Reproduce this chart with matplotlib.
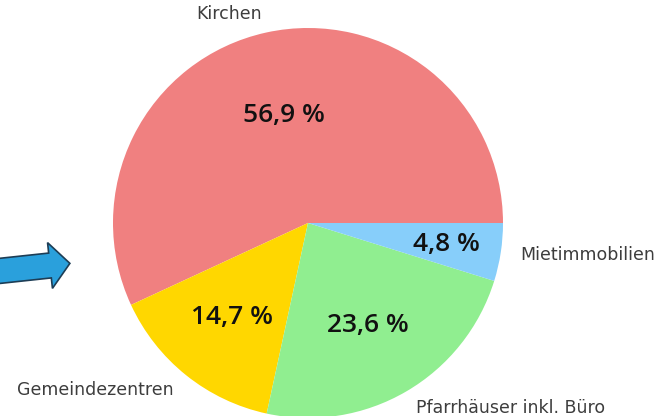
import numpy as np
import matplotlib
matplotlib.use("Agg")
import matplotlib.pyplot as plt
from matplotlib.patches import FancyArrow

# data
labels = ["Kirchen", "Gemeindezentren", "Pfarrhäuser inkl. Büro", "Mietimmobilien"]
shares = [56.9, 14.7, 23.6, 4.8]
colors = ["lightcoral", "gold", "lightgreen", "lightskyblue"]
pct_dist = [0.565, 0.62, 0.61, 0.72]

fig = plt.figure(figsize=(6.72, 4.16), dpi=100)
ax = fig.add_axes([113 / 672, -2 / 416, 390 / 672, 390 / 416])

wedges, texts = ax.pie(shares, labels=labels, colors=colors, startangle=0,
                       labeldistance=1.1,
                       textprops=dict(fontsize=12.5, color="#3d3d3d",
                                      family="DejaVu Sans"))
ax.set_xlim(-1, 1)
ax.set_ylim(-1, 1)
ax.set_aspect("equal")

# percentage labels inside the wedges
for w, val, d in zip(wedges, shares, pct_dist):
    ang = np.deg2rad((w.theta1 + w.theta2) / 2)
    ax.text(d * np.cos(ang), d * np.sin(ang), f"{val:.1f} %".replace(".", ","),
            ha="center", va="center", fontsize=19, fontweight="semibold",
            fontstretch="normal", family="Open Sans", color="#111111")

# blue arrow coming in from the left
arrow = FancyArrow(-0.2, 1.43, 0.70, 0.075, width=0.25, head_width=0.46,
                   head_length=0.2, length_includes_head=False,
                   facecolor="#2aa0dc", edgecolor="#1d3d55", linewidth=1.2,
                   transform=fig.dpi_scale_trans)
fig.add_artist(arrow)

fig.savefig("out.png", dpi=100)
